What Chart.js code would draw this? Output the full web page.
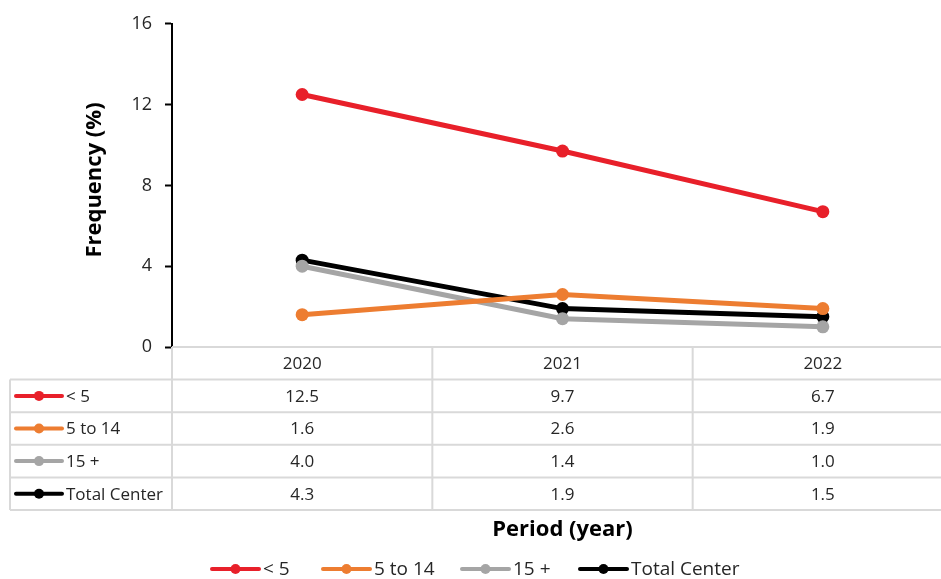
<!DOCTYPE html>
<html>
<head>
<meta charset="utf-8">
<script src="https://cdn.jsdelivr.net/npm/chart.js@4"></script>
<style>
  html, body { margin: 0; padding: 0; background: #fff; overflow: hidden; }
  #wrap { width: 953px; height: 579px; }
</style>
</head>
<body>
<div id="wrap"><canvas id="c" width="953" height="579"></canvas></div>
<script>
// Frequency (%) by age group, 2020–2022
const years = ['2020', '2021', '2022'];
const seriesNames = ['< 5', '5 to 14', '15 +', 'Total Center'];
const under5 = [12.5, 9.7, 6.7];
const age5to14 = [1.6, 2.6, 1.9];
const age15plus = [4.0, 1.4, 1.0];
const totalCenter = [4.3, 1.9, 1.5];
const yTicks = [0, 4, 8, 12, 16];

const colors = ['#E8202A', '#ED7D31', '#A5A5A5', '#000000'];
const seriesValues = [under5, age5to14, age15plus, totalCenter];
const FONT = '"Open Sans", "Noto Sans", sans-serif';
const TEXT = '#262626';
const GRID = '#D9D9D9';

// Small line-with-dot key used in the data table and legend
function drawKey(ctx, x1, x2, y, color) {
  ctx.save();
  ctx.strokeStyle = color;
  ctx.lineWidth = 4;
  ctx.lineCap = 'round';
  ctx.beginPath();
  ctx.moveTo(x1, y);
  ctx.lineTo(x2, y);
  ctx.stroke();
  ctx.fillStyle = color;
  ctx.beginPath();
  ctx.arc((x1 + x2) / 2, y, 5, 0, Math.PI * 2);
  ctx.fill();
  ctx.restore();
}

// Data table under the plot, axis titles and bottom legend
const tablePlugin = {
  id: 'dataTable',
  afterDraw(chart) {
    const ctx = chart.ctx;
    const area = chart.chartArea;
    const x = chart.scales.x;
    const top = area.bottom;
    const rowH = 32.6;
    const labelLeft = 10;
    const right = area.right;
    const colEdges = [area.left];
    for (let i = 0; i < years.length; i++) {
      const c = x.getPixelForValue(i);
      colEdges.push(2 * c - colEdges[i]);
    }

    ctx.save();
    ctx.strokeStyle = GRID;
    ctx.lineWidth = 2;
    ctx.beginPath();
    // header top (x-axis line)
    ctx.moveTo(area.left, top); ctx.lineTo(right, top);
    // row separators
    for (let r = 1; r <= seriesNames.length + 1; r++) {
      const yy = top + r * rowH;
      ctx.moveTo(labelLeft, yy); ctx.lineTo(right, yy);
    }
    // vertical lines
    const bottom = top + (seriesNames.length + 1) * rowH;
    ctx.moveTo(labelLeft, top + rowH); ctx.lineTo(labelLeft, bottom);
    colEdges.forEach(e => { ctx.moveTo(e, top); ctx.lineTo(e, bottom); });
    ctx.stroke();

    // header and values
    ctx.fillStyle = TEXT;
    ctx.font = '17px ' + FONT;
    ctx.textAlign = 'center';
    ctx.textBaseline = 'middle';
    years.forEach((yr, i) => {
      ctx.fillText(yr, x.getPixelForValue(i), top + rowH / 2 + 1);
    });
    seriesNames.forEach((name, r) => {
      const cy = top + (r + 1.5) * rowH + 1;
      seriesValues[r].forEach((v, i) => {
        ctx.fillStyle = TEXT;
        ctx.textAlign = 'center';
        ctx.fillText(v.toFixed(1), x.getPixelForValue(i), cy);
      });
      drawKey(ctx, 16, 62, cy - 1, colors[r]);
      ctx.fillStyle = TEXT;
      ctx.textAlign = 'left';
      ctx.fillText(name, 66, cy);
    });

    // x-axis title
    ctx.font = 'bold 22px ' + FONT;
    ctx.textAlign = 'center';
    ctx.fillStyle = '#000';
    ctx.fillText('Period (year)', x.getPixelForValue(1), 530);

    // y-axis title
    ctx.save();
    ctx.translate(95, 180);
    ctx.rotate(-Math.PI / 2);
    ctx.fillText('Frequency (%)', 0, 0);
    ctx.restore();

    // legend
    ctx.font = '19px ' + FONT;
    ctx.textAlign = 'left';
    const legendY = 569;
    const legendX = [212, 323, 462, 580];
    seriesNames.forEach((name, i) => {
      drawKey(ctx, legendX[i], legendX[i] + 47, legendY, colors[i]);
      ctx.fillStyle = TEXT;
      ctx.fillText(name, legendX[i] + 51, legendY + 1);
    });
    ctx.restore();
  }
};

new Chart(document.getElementById('c'), {
  type: 'line',
  data: {
    labels: years,
    datasets: seriesNames.map((name, i) => ({
      label: name,
      data: seriesValues[i],
      borderColor: colors[i],
      backgroundColor: colors[i],
      borderWidth: 5,
      pointRadius: 6.5,
      pointHoverRadius: 6.5,
      pointBorderWidth: 0,
      tension: 0
    }))
  },
  options: {
    responsive: false,
    animation: false,
    events: [],
    layout: { autoPadding: false, padding: { left: 0, right: 0, top: 20, bottom: 0 } },
    plugins: { legend: { display: false }, tooltip: { enabled: false } },
    scales: {
      x: {
        offset: true,
        grid: { display: false },
        border: { display: false },
        ticks: { display: false },
        afterFit(scale) { scale.height = 232; }
      },
      y: {
        min: yTicks[0],
        max: yTicks[yTicks.length - 1],
        afterBuildTicks(scale) { scale.ticks = yTicks.map(v => ({ value: v })); },
        grid: { drawOnChartArea: false, tickLength: 7, color: '#000', tickWidth: 2 },
        border: { color: '#000', width: 2 },
        ticks: { color: TEXT, font: { family: FONT, size: 18 }, padding: 13 },
        afterFit(scale) { scale.width = 172; }
      }
    }
  },
  plugins: [tablePlugin]
});
</script>
</body>
</html>
